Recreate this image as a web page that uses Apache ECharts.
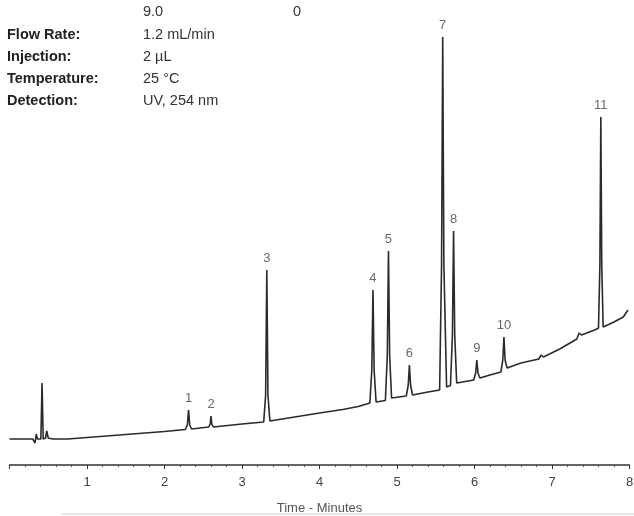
<!DOCTYPE html>
<html>
<head>
<meta charset="utf-8">
<script src="https://cdn.jsdelivr.net/npm/echarts@6/dist/echarts.min.js"></script>
<style>
html,body{margin:0;padding:0;background:#fff;}
#c{width:634px;height:516px;}
</style>
</head>
<body>
<div id="c"></div>
<script>
// Chromatogram trace: [time (min), signal (arb. units)]
var traceTime = [0, 0.30, 0.33, 0.345, 0.36, 0.405, 0.42, 0.435, 0.465, 0.48, 0.50, 0.56, 0.75, 1.0, 1.5, 2.0,
  2.27, 2.295, 2.31, 2.325, 2.35, 2.57, 2.59, 2.60, 2.61, 2.63, 3.0, 3.28, 3.305, 3.32, 3.335, 3.36,
  3.6, 4.0, 4.3, 4.5, 4.65, 4.675, 4.69, 4.705, 4.73, 4.85, 4.875, 4.89, 4.905, 4.93,
  5.12, 5.145, 5.16, 5.175, 5.20, 5.40, 5.55, 5.575, 5.59, 5.605, 5.64, 5.69, 5.715, 5.73, 5.745, 5.77,
  5.99, 6.015, 6.03, 6.045, 6.07, 6.2, 6.34, 6.365, 6.38, 6.395, 6.42, 6.6, 6.83, 6.86, 6.89,
  7.1, 7.32, 7.35, 7.38, 7.55, 7.60, 7.618, 7.63, 7.642, 7.66, 7.8, 7.92, 7.98];
var traceSignal = [26, 26, 22, 31, 26, 26, 82, 26, 27, 34, 27, 26, 26, 27.5, 30.5, 33.5,
  35.5, 40, 55, 40, 36, 38, 41, 49, 41, 38, 41, 43, 70, 195, 70, 44,
  47, 52, 55.5, 58.5, 62, 95, 175, 95, 63, 64.5, 110, 214, 110, 67,
  69, 80, 100, 80, 70, 73, 75, 200, 428, 200, 78, 79.5, 130, 234, 130, 82,
  85, 92, 105, 92, 87, 90, 93, 105, 128, 105, 97, 102, 106, 110, 108,
  116, 126, 132, 130, 135, 137, 200, 348, 200, 138, 143, 148, 155];

// Peak annotations
var peakNames = ['1','2','3','4','5','6','7','8','9','10','11'];
var peakTimes = [2.31, 2.60, 3.32, 4.69, 4.89, 5.16, 5.59, 5.73, 6.03, 6.38, 7.63];
var peakHeights = [55, 49, 195, 175, 214, 100, 428, 234, 105, 128, 348];

// Axis ticks
var xTicks = [0, 1, 2, 3, 4, 5, 6, 7, 8];

// Method conditions
var condLabels = ['Flow Rate:', 'Injection:', 'Temperature:', 'Detection:'];
var condValues = ['1.2 mL/min', '2 \u00b5L', '25 \u00b0C', 'UV, 254 nm'];
var topRow = ['9.0', '0'];

var trace = traceTime.map(function (t, i) { return [t, traceSignal[i]]; });
var peaks = peakTimes.map(function (t, i) { return { value: [t, peakHeights[i]], name: peakNames[i] }; });

var chart = echarts.init(document.getElementById('c'), null, { renderer: 'canvas' });

var FONT = '"Liberation Sans", Arial, sans-serif';
var graphics = [];
graphics.push({ type: 'text', left: 143, top: 4, style: { text: topRow[0], font: '14.5px ' + FONT, fill: '#333' } });
graphics.push({ type: 'text', left: 293, top: 4, style: { text: topRow[1], font: '14.5px ' + FONT, fill: '#333' } });
condLabels.forEach(function (l, i) {
  graphics.push({ type: 'text', left: 7, top: 27 + i * 22, style: { text: l, font: 'bold 14.5px ' + FONT, fill: '#222' } });
  graphics.push({ type: 'text', left: 143, top: 27 + i * 22, style: { text: condValues[i], font: '14.5px ' + FONT, fill: '#333' } });
});
graphics.push({ type: 'line', shape: { x1: 62, y1: 514, x2: 634, y2: 514 }, style: { stroke: '#d0d0d0', lineWidth: 1 }, z: -1 });

chart.setOption({
  animation: false,
  backgroundColor: '#fff',
  grid: { left: 9.5, right: 4.5, top: 35, bottom: 51, containLabel: false, outerBoundsMode: 'none' },
  xAxis: {
    type: 'value', min: xTicks[0], max: xTicks[xTicks.length - 1], interval: 1,
    name: 'Time - Minutes', nameLocation: 'middle', nameGap: 37,
    nameTextStyle: { fontSize: 13, color: '#555', fontFamily: FONT },
    axisLine: { show: true, lineStyle: { color: '#333', width: 1.5 } },
    axisTick: { show: true, length: 4, lineStyle: { color: '#333' } },
    minorTick: { show: true, splitNumber: 5, length: 2, lineStyle: { color: '#555' } },
    splitLine: { show: false },
    axisLabel: {
      margin: 11, fontSize: 13, color: '#444', fontFamily: FONT,
      formatter: function (v) { return v === 0 ? '' : String(v); }
    }
  },
  yAxis: { type: 'value', min: 0, max: 430, show: false, splitLine: { show: false } },
  series: [
    {
      type: 'line', data: trace, showSymbol: false, smooth: false,
      lineStyle: { color: '#2a2a2a', width: 1.6 }, z: 3
    },
    {
      type: 'scatter', data: peaks, symbolSize: 0,
      label: {
        show: true, position: 'top', distance: 5, formatter: '{b}',
        fontSize: 13, color: '#444', fontFamily: FONT
      }, z: 4
    }
  ],
  graphic: graphics
});
</script>
</body>
</html>
